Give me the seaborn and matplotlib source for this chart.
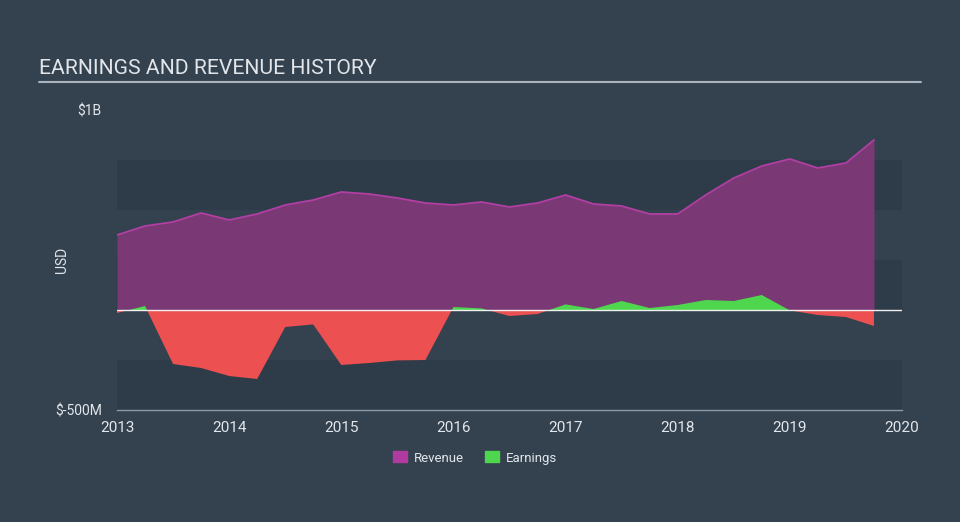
import numpy as np
import pandas as pd
import matplotlib
matplotlib.use("Agg")
import matplotlib.pyplot as plt
import seaborn as sns
from matplotlib.patches import Patch

# ============================================================
# DATA (USD millions, quarterly)
# ============================================================

QUARTERS = [2013.0, 2013.25, 2013.5, 2013.75,
            2014.0, 2014.25, 2014.5, 2014.75,
            2015.0, 2015.25, 2015.5, 2015.75,
            2016.0, 2016.25, 2016.5, 2016.75,
            2017.0, 2017.25, 2017.5, 2017.75,
            2018.0, 2018.25, 2018.5, 2018.75,
            2019.0, 2019.25, 2019.5, 2019.75]

REVENUE = [375, 420, 440, 485,
           450, 480, 525, 550,
           590, 580, 560, 535,
           525, 540, 515, 535,
           575, 530, 520, 480,
           480, 575, 660, 720,
           755, 710, 735, 850]

EARNINGS = [-15, 20, -270, -290,
            -330, -345, -85, -72,
            -275, -265, -252, -250,
            15, 8, -30, -20,
            28, 5, 45, 10,
            25, 50, 45, 75,
            -2, -25, -35, -80]

YEAR_TICKS = [2013, 2014, 2015, 2016, 2017, 2018, 2019, 2020]

BG = "#344250"
BAND = "#2e3b48"
REV_FILL = "#7a3874"
REV_LINE = "#b23fa3"
GREEN = "#4fd64f"
RED = "#ec5050"
TEXT = "#e2e6ea"

# ============================================================
# PLOT
# ============================================================

sns.set_style("dark")
plt.rcParams["font.family"] = ["Roboto", "DejaVu Sans"]

df = pd.DataFrame({"Year": QUARTERS, "Revenue": REVENUE, "Earnings": EARNINGS})

fig = plt.figure(figsize=(9.6, 5.22), dpi=100, facecolor=BG)
ax = fig.add_axes([117 / 960, 1 - 410 / 522, (902 - 117) / 960, 300 / 522])
ax.set_facecolor(BG)

# background bands
for lo, hi in [(500, 750), (0, 250), (-500, -250)]:
    ax.axhspan(lo, hi, color=BAND, zorder=0, lw=0)

# revenue
ax.fill_between(df["Year"], 0, df["Revenue"], color=REV_FILL, lw=0, zorder=2)
sns.lineplot(data=df, x="Year", y="Revenue", color=REV_LINE, lw=1.3, ax=ax, zorder=3)

# earnings
e = df["Earnings"].to_numpy()
ax.fill_between(df["Year"], 0, e, where=e >= 0, interpolate=True, color=GREEN, lw=0, zorder=4)
ax.fill_between(df["Year"], 0, e, where=e <= 0, interpolate=True, color=RED, lw=0, zorder=4)

ax.axhline(0, color="#f0f0f0", lw=1, zorder=5)

ax.set_xlim(2013, 2020)
ax.set_ylim(-500, 1000)
ax.set_xticks(YEAR_TICKS)
ax.set_xticklabels([str(y) for y in YEAR_TICKS], color=TEXT, fontsize=11)
ax.set_yticks([-500, 1000])
ax.set_yticklabels(["$-500M", "$1B"], color=TEXT, fontsize=10)
ax.tick_params(axis="y", length=0, pad=11)
ax.tick_params(axis="x", length=6, color="#8d9aa6", width=1, pad=2)
ax.set_xlabel("")
ax.set_ylabel("")
ax.grid(False)
for s in ["top", "right", "left"]:
    ax.spines[s].set_visible(False)
ax.spines["bottom"].set_color("#8d9aa6")
ax.spines["bottom"].set_linewidth(1)

fig.text(62 / 960, 1 - 260 / 522, "USD", color=TEXT, fontsize=10,
         rotation=90, ha="center", va="center")

# title with rule underneath
fig.text(39 / 960, 1 - 69 / 522, "EARNINGS AND REVENUE HISTORY", color=TEXT,
         fontsize=15.2, va="center", ha="left")
fig.add_artist(plt.Line2D([39 / 960, 921 / 960], [1 - 82 / 522, 1 - 82 / 522],
                          color="#aab3bc", lw=1.5))

handles = [Patch(color="#b03aa0", label="Revenue"), Patch(color=GREEN, label="Earnings")]
leg = fig.legend(handles=handles, loc="center", bbox_to_anchor=(475 / 960, 1 - 458 / 522),
                 ncol=2, frameon=False, fontsize=9.5, handlelength=1.1, handleheight=0.9,
                 columnspacing=1.6, handletextpad=0.5)
for t in leg.get_texts():
    t.set_color(TEXT)

fig.savefig("out.png", dpi=100, facecolor=BG)
